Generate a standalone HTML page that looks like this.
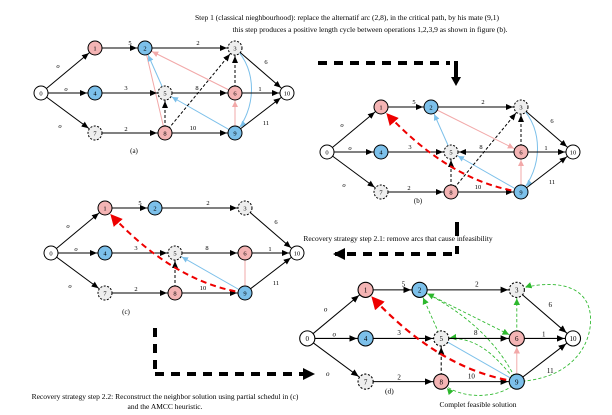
<!DOCTYPE html>
<html><head><meta charset="utf-8"><style>
html,body{margin:0;padding:0;background:#fff;}
svg{display:block;font-family:"Liberation Serif",serif;}
</style></head><body>
<svg width="612" height="415" viewBox="0 0 612 415" xmlns="http://www.w3.org/2000/svg">
<defs>
<marker id="ak" markerUnits="userSpaceOnUse" markerWidth="30" markerHeight="10" refX="15" refY="3" orient="auto"><path d="M0,0 L7,3 L0,6 z" fill="#000"/></marker>
<marker id="ab" markerUnits="userSpaceOnUse" markerWidth="30" markerHeight="10" refX="14" refY="3" orient="auto"><path d="M0,0 L6,3 L0,6 z" fill="#7cc0ea"/></marker>
<marker id="ap" markerUnits="userSpaceOnUse" markerWidth="30" markerHeight="10" refX="14" refY="3" orient="auto"><path d="M0,0 L6,3 L0,6 z" fill="#f2a8a8"/></marker>
<marker id="ag" markerUnits="userSpaceOnUse" markerWidth="30" markerHeight="10" refX="14" refY="3" orient="auto"><path d="M0,0 L6,3 L0,6 z" fill="#2db82d"/></marker>
<marker id="ar" markerUnits="userSpaceOnUse" markerWidth="30" markerHeight="14" refX="20" refY="6" orient="auto"><path d="M0,0 L12,6 L0,12 z" fill="#e00"/></marker>
<marker id="abig" markerUnits="userSpaceOnUse" markerWidth="20" markerHeight="20" refX="10" refY="6" orient="auto"><path d="M0,0 L12,6 L0,12 z" fill="#000"/></marker>
</defs>

<g font-size="7.5" text-anchor="middle" fill="#000">
<text x="347" y="20">Step 1 (classical nieghbourhood): replace the alternatif arc (2,8), in the critical path, by his mate (9,1)</text>
<text x="370" y="32">this step produces a positive length cycle between operations 1,2,3,9 as shown in figure (b).</text>
<text x="398" y="241">Recovery strategy step 2.1: remove arcs that cause infeasibility</text>
<text x="165" y="399">Recovery strategy step 2.2: Reconstruct the neighbor solution using partial schedul in (c)</text>
<text x="165" y="409">and the AMCC heuristic.</text>
<text x="478" y="407">Complet feasible solution</text>
</g>

<!-- thick dashed arrows -->
<g stroke="#000" stroke-width="4" fill="none">
<path d="M318,63 H450" stroke-dasharray="9,7"/>
<path d="M456,61 V78"/>
<path d="M457,222 V236 M457,246 V254"/>
<path d="M452,254 H335" stroke-dasharray="9,7" marker-end="url(#abig)"/>
<path d="M155,328 V372" stroke-dasharray="9,7"/>
<path d="M155,374 H313" stroke-dasharray="9,7" marker-end="url(#abig)"/>
</g>
<path d="M451,77 L461,77 L456,86 z" fill="#000"/>

<!-- ===== Graph (a) ===== -->
<g id="ga">
<g stroke-width="1" fill="none">
<path d="M235,48 C258,70 256,110 235,133" stroke="#7cc0ea" marker-end="url(#ab)"/>
<line x1="235" y1="93" x2="145" y2="48" stroke="#f2a8a8" marker-end="url(#ap)"/>
<line x1="165" y1="133" x2="145" y2="48" stroke="#f2a8a8"/>
<line x1="165" y1="93" x2="145" y2="48" stroke="#7cc0ea" marker-end="url(#ab)"/>
<line x1="235" y1="133" x2="165" y2="93" stroke="#7cc0ea" marker-end="url(#ab)"/>
<line x1="235" y1="133" x2="235" y2="93" stroke="#f2a8a8" marker-end="url(#ap)"/>
</g>
<g stroke="#000" stroke-width="1" fill="none" marker-end="url(#ak)">
<line x1="41" y1="93" x2="95" y2="48"/><line x1="41" y1="93" x2="95" y2="93"/><line x1="41" y1="93" x2="95" y2="133"/>
<line x1="95" y1="48" x2="145" y2="48"/><line x1="145" y1="48" x2="235" y2="48"/><line x1="235" y1="48" x2="287" y2="93"/>
<line x1="95" y1="93" x2="165" y2="93"/><line x1="165" y1="93" x2="235" y2="93"/><line x1="235" y1="93" x2="287" y2="93"/>
<line x1="95" y1="133" x2="165" y2="133"/><line x1="165" y1="133" x2="235" y2="133"/><line x1="235" y1="133" x2="287" y2="93"/>
<g stroke-dasharray="3,2"><line x1="165" y1="133" x2="165" y2="93"/><line x1="235" y1="93" x2="235" y2="48"/><line x1="165" y1="133" x2="235" y2="48"/></g>
</g>
<g stroke="#000" stroke-width="1">
<circle cx="41" cy="93" r="7" fill="#fff"/><circle cx="95" cy="48" r="7" fill="#f4b4b4"/><circle cx="145" cy="48" r="7" fill="#7cc0ea"/>
<circle cx="235" cy="48" r="7" fill="#eee" stroke-dasharray="2,1.5"/><circle cx="95" cy="93" r="7" fill="#7cc0ea"/><circle cx="165" cy="93" r="7" fill="#eee" stroke-dasharray="2,1.5"/>
<circle cx="235" cy="93" r="7" fill="#f4b4b4"/><circle cx="287" cy="93" r="7" fill="#fff"/><circle cx="95" cy="133" r="7" fill="#eee" stroke-dasharray="2,1.5"/>
<circle cx="165" cy="133" r="7" fill="#f4b4b4"/><circle cx="235" cy="133" r="7" fill="#7cc0ea"/>
</g>
<g font-size="6.5" text-anchor="middle">
<text x="41" y="95.5">0</text><text x="95" y="50.5">1</text><text x="145" y="50.5">2</text><text x="235" y="50.5">3</text><text x="95" y="95.5">4</text><text x="165" y="95.5">5</text><text x="235" y="95.5">6</text><text x="287" y="95.5">10</text><text x="95" y="135.5">7</text><text x="165" y="135.5">8</text><text x="235" y="135.5">9</text>
<text x="130" y="45">5</text><text x="198" y="45">2</text><text x="266" y="64">6</text><text x="260" y="91">1</text><text x="266" y="125">11</text><text x="126" y="90">3</text><text x="197" y="90">8</text><text x="193" y="130">10</text><text x="126" y="131">2</text>
<text x="58" y="68" font-style="italic">o</text><text x="66" y="91" font-style="italic">o</text><text x="60" y="128" font-style="italic">o</text>
</g>
<text x="134" y="153" font-size="7" text-anchor="middle">(a)</text>
</g>

<!-- ===== Graph (b) ===== -->
<g transform="translate(286,59)">
<g stroke-width="1" fill="none">
<path d="M235,48 C258,70 256,110 235,133" stroke="#7cc0ea" marker-end="url(#ab)"/>
<line x1="145" y1="48" x2="235" y2="93" stroke="#f2a8a8" marker-end="url(#ap)"/>
<line x1="165" y1="93" x2="145" y2="48" stroke="#7cc0ea" marker-end="url(#ab)"/>
<line x1="235" y1="133" x2="165" y2="93" stroke="#7cc0ea" marker-end="url(#ab)"/>
<line x1="235" y1="133" x2="235" y2="93" stroke="#f2a8a8" marker-end="url(#ap)"/>
</g>
<g stroke="#000" stroke-width="1" fill="none" marker-end="url(#ak)">
<line x1="41" y1="93" x2="95" y2="48"/><line x1="41" y1="93" x2="95" y2="93"/><line x1="41" y1="93" x2="95" y2="133"/>
<line x1="95" y1="48" x2="145" y2="48"/><line x1="145" y1="48" x2="235" y2="48"/><line x1="235" y1="48" x2="287" y2="93"/>
<line x1="95" y1="93" x2="165" y2="93"/><line x1="235" y1="93" x2="165" y2="93"/><line x1="235" y1="93" x2="287" y2="93"/>
<line x1="95" y1="133" x2="165" y2="133"/><line x1="165" y1="133" x2="235" y2="133"/><line x1="235" y1="133" x2="287" y2="93"/>
<g stroke-dasharray="3,2"><line x1="165" y1="133" x2="165" y2="93"/><line x1="235" y1="93" x2="235" y2="48"/><line x1="165" y1="133" x2="235" y2="48"/></g>
</g>
<path d="M235,133 C200,128 150,110 95,48" stroke="#e00" stroke-width="2" stroke-dasharray="6,4" fill="none" marker-end="url(#ar)"/>
<g stroke="#000" stroke-width="1">
<circle cx="41" cy="93" r="7" fill="#fff"/><circle cx="95" cy="48" r="7" fill="#f4b4b4"/><circle cx="145" cy="48" r="7" fill="#7cc0ea"/>
<circle cx="235" cy="48" r="7" fill="#eee" stroke-dasharray="2,1.5"/><circle cx="95" cy="93" r="7" fill="#7cc0ea"/><circle cx="165" cy="93" r="7" fill="#eee" stroke-dasharray="2,1.5"/>
<circle cx="235" cy="93" r="7" fill="#f4b4b4"/><circle cx="287" cy="93" r="7" fill="#fff"/><circle cx="95" cy="133" r="7" fill="#eee" stroke-dasharray="2,1.5"/>
<circle cx="165" cy="133" r="7" fill="#f4b4b4"/><circle cx="235" cy="133" r="7" fill="#7cc0ea"/>
</g>
<g font-size="6.5" text-anchor="middle">
<text x="41" y="95.5">0</text><text x="95" y="50.5">1</text><text x="145" y="50.5">2</text><text x="235" y="50.5">3</text><text x="95" y="95.5">4</text><text x="165" y="95.5">5</text><text x="235" y="95.5">6</text><text x="287" y="95.5">10</text><text x="95" y="135.5">7</text><text x="165" y="135.5">8</text><text x="235" y="135.5">9</text>
<text x="128" y="45">5</text><text x="197" y="45">2</text><text x="266" y="64">6</text><text x="260" y="91">1</text><text x="266" y="125">11</text><text x="124" y="90">3</text><text x="195" y="90">8</text><text x="192" y="130">10</text><text x="123" y="131">2</text>
<text x="56" y="68" font-style="italic">o</text><text x="64" y="91" font-style="italic">o</text><text x="58" y="128" font-style="italic">o</text>
</g>
<text x="132" y="144" font-size="7" text-anchor="middle">(b)</text>
</g>

<!-- ===== Graph (c) ===== -->
<g transform="translate(10,160)">
<g stroke-width="1" fill="none">
<line x1="235" y1="133" x2="165" y2="93" stroke="#7cc0ea" marker-end="url(#ab)"/>
<line x1="235" y1="133" x2="235" y2="93" stroke="#f2a8a8"/>
</g>
<g stroke="#000" stroke-width="1" fill="none" marker-end="url(#ak)">
<line x1="41" y1="93" x2="95" y2="48"/><line x1="41" y1="93" x2="95" y2="93"/><line x1="41" y1="93" x2="95" y2="133"/>
<line x1="95" y1="48" x2="145" y2="48"/><line x1="145" y1="48" x2="235" y2="48"/><line x1="235" y1="48" x2="287" y2="93"/>
<line x1="95" y1="93" x2="165" y2="93"/><line x1="165" y1="93" x2="235" y2="93"/><line x1="235" y1="93" x2="287" y2="93"/>
<line x1="95" y1="133" x2="165" y2="133"/><line x1="165" y1="133" x2="235" y2="133"/><line x1="235" y1="133" x2="287" y2="93"/>
<line x1="165" y1="133" x2="165" y2="93" stroke-dasharray="3,2"/>
</g>
<path d="M235,133 C200,128 150,110 95,48" stroke="#e00" stroke-width="2" stroke-dasharray="6,4" fill="none" marker-end="url(#ar)"/>
<g stroke="#000" stroke-width="1">
<circle cx="41" cy="93" r="7" fill="#fff"/><circle cx="95" cy="48" r="7" fill="#f4b4b4"/><circle cx="145" cy="48" r="7" fill="#7cc0ea"/>
<circle cx="235" cy="48" r="7" fill="#eee" stroke-dasharray="2,1.5"/><circle cx="95" cy="93" r="7" fill="#7cc0ea"/><circle cx="165" cy="93" r="7" fill="#eee" stroke-dasharray="2,1.5"/>
<circle cx="235" cy="93" r="7" fill="#f4b4b4"/><circle cx="287" cy="93" r="7" fill="#fff"/><circle cx="95" cy="133" r="7" fill="#eee" stroke-dasharray="2,1.5"/>
<circle cx="165" cy="133" r="7" fill="#f4b4b4"/><circle cx="235" cy="133" r="7" fill="#7cc0ea"/>
</g>
<g font-size="6.5" text-anchor="middle">
<text x="41" y="95.5">0</text><text x="95" y="50.5">1</text><text x="145" y="50.5">2</text><text x="235" y="50.5">3</text><text x="95" y="95.5">4</text><text x="165" y="95.5">5</text><text x="235" y="95.5">6</text><text x="287" y="95.5">10</text><text x="95" y="135.5">7</text><text x="165" y="135.5">8</text><text x="235" y="135.5">9</text>
<text x="130" y="45">5</text><text x="198" y="45">2</text><text x="266" y="64">6</text><text x="260" y="91">1</text><text x="266" y="125">11</text><text x="126" y="90">3</text><text x="197" y="90">8</text><text x="193" y="130">10</text><text x="126" y="131">2</text>
<text x="58" y="68" font-style="italic">o</text><text x="66" y="91" font-style="italic">o</text><text x="60" y="128" font-style="italic">o</text>
</g>
<text x="116" y="154" font-size="7" text-anchor="middle">(c)</text>
</g>

<!-- ===== Graph (d) ===== -->
<g transform="translate(263,238) scale(1.08)">
<g stroke-width="0.9" fill="none">
<line x1="235" y1="133" x2="165" y2="93" stroke="#7cc0ea"/>
<line x1="235" y1="133" x2="235" y2="93" stroke="#f2a8a8" marker-end="url(#ap)"/>
</g>
<g stroke="#2db82d" stroke-width="0.8" fill="none" stroke-dasharray="3,2" marker-end="url(#ag)">
<line x1="145" y1="48" x2="235" y2="93"/>
<line x1="165" y1="93" x2="145" y2="48"/>
<path d="M235,133 C220,100 190,70 145,48"/>
<path d="M235,133 C215,110 200,90 165,93"/>
<line x1="235" y1="93" x2="235" y2="48"/>
<path d="M235,133 C300,130 310,80 300,60 C290,40 260,40 235,48"/>
<path d="M235,133 C220,150 180,150 165,133"/>
</g>
<g stroke="#000" stroke-width="0.95" fill="none" marker-end="url(#ak)">
<line x1="41" y1="93" x2="95" y2="48"/><line x1="41" y1="93" x2="95" y2="93"/><line x1="41" y1="93" x2="95" y2="133"/>
<line x1="95" y1="48" x2="145" y2="48"/><line x1="145" y1="48" x2="235" y2="48"/><line x1="235" y1="48" x2="287" y2="93"/>
<line x1="95" y1="93" x2="165" y2="93"/><line x1="165" y1="93" x2="235" y2="93"/><line x1="235" y1="93" x2="287" y2="93"/>
<line x1="95" y1="133" x2="165" y2="133"/><line x1="165" y1="133" x2="235" y2="133"/><line x1="235" y1="133" x2="287" y2="93"/>
<line x1="165" y1="133" x2="165" y2="93" stroke-dasharray="3,2"/>
</g>
<path d="M235,133 C200,128 150,110 95,48" stroke="#e00" stroke-width="2" stroke-dasharray="6,4" fill="none" marker-end="url(#ar)"/>
<g stroke="#000" stroke-width="1">
<circle cx="41" cy="93" r="7" fill="#fff"/><circle cx="95" cy="48" r="7" fill="#f4b4b4"/><circle cx="145" cy="48" r="7" fill="#7cc0ea"/>
<circle cx="235" cy="48" r="7" fill="#eee" stroke-dasharray="2,1.5"/><circle cx="95" cy="93" r="7" fill="#7cc0ea"/><circle cx="165" cy="93" r="7" fill="#eee" stroke-dasharray="2,1.5"/>
<circle cx="235" cy="93" r="7" fill="#f4b4b4"/><circle cx="287" cy="93" r="7" fill="#fff"/><circle cx="95" cy="133" r="7" fill="#eee" stroke-dasharray="2,1.5"/>
<circle cx="165" cy="133" r="7" fill="#f4b4b4"/><circle cx="235" cy="133" r="7" fill="#7cc0ea"/>
</g>
<g font-size="6.5" text-anchor="middle">
<text x="41" y="95.5">0</text><text x="95" y="50.5">1</text><text x="145" y="50.5">2</text><text x="235" y="50.5">3</text><text x="95" y="95.5">4</text><text x="165" y="95.5">5</text><text x="235" y="95.5">6</text><text x="287" y="95.5">10</text><text x="95" y="135.5">7</text><text x="165" y="135.5">8</text><text x="235" y="135.5">9</text>
<text x="130" y="45">5</text><text x="198" y="45">2</text><text x="266" y="64">6</text><text x="260" y="91">1</text><text x="266" y="125">11</text><text x="126" y="90">3</text><text x="197" y="90">8</text><text x="193" y="130">10</text><text x="126" y="131">2</text>
<text x="58" y="68" font-style="italic">o</text><text x="66" y="91" font-style="italic">o</text><text x="60" y="128" font-style="italic">o</text>
</g>
<text x="117" y="144" font-size="7" text-anchor="middle">(d)</text>
</g>
</svg>
</body></html>
